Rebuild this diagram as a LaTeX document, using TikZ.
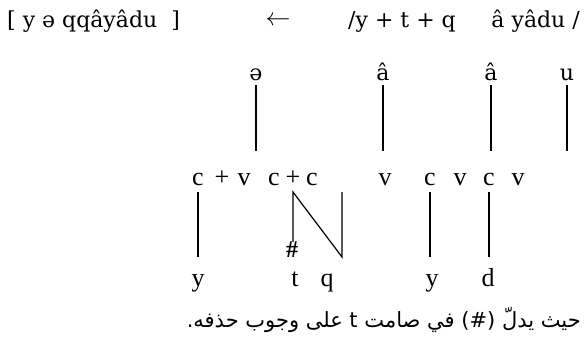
\documentclass[tikz,border=0pt]{standalone}
\usepackage{fontspec}
\setmainfont{Liberation Serif}
\newfontfamily\ipafont{DejaVu Serif}
\newfontfamily\arabicfont[Script=Arabic]{DejaVu Sans}
\TeXXeTstate=1

\begin{document}
\begin{tikzpicture}[
        x=1pt, y=-1pt,
        font=\fontsize{26}{30}\selectfont,
        seg/.style={
            inner sep=0pt,
            anchor=base
        },
        ipa/.style={
            inner sep=0pt,
            anchor=base,
            font=\ipafont\fontsize{22}{26}\selectfont
        },
        assoc/.style={line width=1.2pt, draw=black},
        note/.style={
            inner sep=0pt,
            anchor=base east,
            font=\arabicfont\fontsize{21}{25}\selectfont
        }
    ]
        \useasboundingbox (0,0) rectangle (584,346);

        % Surface and underlying forms
        \node[ipa, anchor=base west] (surf) at (7,27) {[ y ə qqâyâdu\ \ ]};
        \node[seg] (arr) at (278,25) {$\leftarrow$};
        \node[ipa, anchor=base west] (ur1) at (348,27) {/y + t + q};
        \node[ipa, anchor=base east] (ur2) at (580,27) {â yâdu /};

        % Vowel tier
        \node[ipa] (schwa) at (256,80) {ə};
        \node[ipa] (acirc1) at (383,80) {â};
        \node[ipa] (acirc2) at (491,80) {â};
        \node[ipa] (uu) at (567,80) {u};

        % CV skeleton
        \node[seg] (c1) at (198,185) {c};
        \node[seg] (p1) at (222,185) {+};
        \node[seg] (v1) at (244,185) {v};
        \node[seg] (c2) at (274,185) {c};
        \node[seg] (p2) at (293,185) {+};
        \node[seg] (c3) at (312,185) {c};
        \node[seg] (v2) at (385,185) {v};
        \node[seg] (c4) at (430,185) {c};
        \node[seg] (v3) at (460,185) {v};
        \node[seg] (c5) at (489,185) {c};
        \node[seg] (v4) at (518,185) {v};

        % Consonant tier
        \node[seg] (yy1) at (198,286) {y};
        \node[seg] (tt) at (295,286) {t};
        \node[seg] (qq) at (327,286) {q};
        \node[seg] (yy2) at (432,286) {y};
        \node[seg] (dd) at (488,286) {d};

        \node[inner sep=0pt, font=\fontsize{24}{28}\selectfont\bfseries] (hash) at (292,250) {\#};

        % free ends of the lines
        \coordinate (hiTop) at (0,85);
        \coordinate (hiBot) at (0,151);
        \coordinate (loTop) at (0,192);
        \coordinate (loBot) at (0,257);
        \coordinate (nRight) at (342,0);

        % Vowel lines
        \draw[assoc] (schwa |- hiTop) -- (schwa |- hiBot);
        \draw[assoc] (acirc1 |- hiTop) -- (acirc1 |- hiBot);
        \draw[assoc] (acirc2 |- hiTop) -- (acirc2 |- hiBot);
        \draw[assoc] (uu |- hiTop) -- (uu |- hiBot);

        % Consonant lines
        \draw[assoc] (hash.north -| p2) -- (p2 |- loTop)
            -- (nRight |- loBot) -- (nRight |- loTop);
        \draw[assoc] (c1 |- loTop) -- (c1 |- loBot);
        \draw[assoc] (c4 |- loTop) -- (c4 |- loBot);
        \draw[assoc] (c5 |- loTop) -- (c5 |- loBot);

        % Note
        \node[note] (gloss) at (581,327)
            {\beginR حيث يدلّ (\#) في صامت t على وجوب حذفه.\endR};

    \end{tikzpicture}
\end{document}
